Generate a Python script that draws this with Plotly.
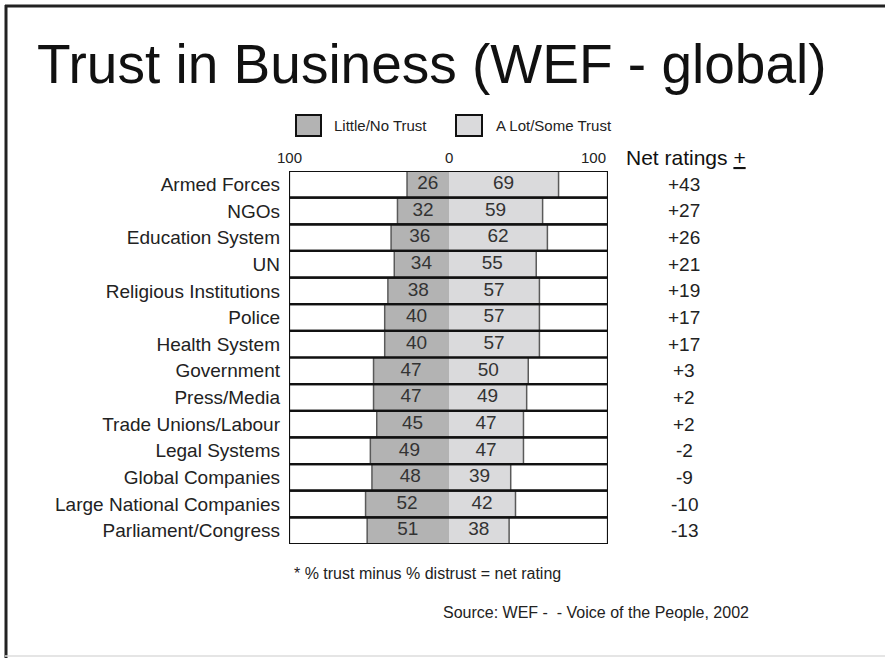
import plotly.graph_objects as go

categories = ["Armed Forces", "NGOs", "Education System", "UN", "Religious Institutions",
              "Police", "Health System", "Government", "Press/Media", "Trade Unions/Labour",
              "Legal Systems", "Global Companies", "Large National Companies", "Parliament/Congress"]
distrust = [26, 32, 36, 34, 38, 40, 40, 47, 47, 45, 49, 48, 52, 51]
trust = [69, 59, 62, 55, 57, 57, 57, 50, 49, 47, 47, 39, 42, 38]
net_ratings = ["+43", "+27", "+26", "+21", "+19", "+17", "+17", "+3", "+2", "+2", "-2", "-9", "-10", "-13"]
axis_ticks = ["100", "0", "100"]

W, H = 885, 658
L, R, T, B = 289, 608, 171, 544  # plot area in pixels


def px(p):
    return (p - L) / (R - L)


def py(p):
    return (B - p) / (B - T)


FONT = "Liberation Sans, Arial, sans-serif"
DARK = "#b3b3b3"
LIGHT = "#dadadc"
TXT = "#222222"

n = len(categories)
ys = list(range(n))

fig = go.Figure()
fig.add_trace(go.Bar(y=ys, x=distrust, base=[-d for d in distrust], orientation="h",
                     marker=dict(color=DARK, line=dict(width=0)), width=1.0,
                     name="Little/No Trust", showlegend=False, hoverinfo="skip"))
fig.add_trace(go.Bar(y=ys, x=trust, base=[0] * n, orientation="h",
                     marker=dict(color=LIGHT, line=dict(width=0)), width=1.0,
                     name="A Lot/Some Trust", showlegend=False, hoverinfo="skip"))

# bar end edges
ex, ey = [], []
for i in range(n):
    ex += [-distrust[i], -distrust[i], None, trust[i], trust[i], None]
    ey += [i - 0.5, i + 0.5, None, i - 0.5, i + 0.5, None]
fig.add_trace(go.Scatter(x=ex, y=ey, mode="lines", line=dict(color="#5a5a5a", width=1.5),
                         showlegend=False, hoverinfo="skip"))

# value labels
fig.add_trace(go.Scatter(x=[-d / 2 for d in distrust], y=ys, mode="text",
                         text=[str(d) for d in distrust],
                         textfont=dict(family=FONT, size=19, color="#333333"),
                         showlegend=False, hoverinfo="skip"))
fig.add_trace(go.Scatter(x=[t / 2 for t in trust], y=ys, mode="text",
                         text=[str(t) for t in trust],
                         textfont=dict(family=FONT, size=19, color="#333333"),
                         showlegend=False, hoverinfo="skip"))

shapes = []
for i in range(n):
    shapes.append(dict(type="rect", xref="x", yref="y", x0=-100, x1=100, y0=i - 0.5, y1=i + 0.5,
                       line=dict(color="#111111", width=2.2), fillcolor="rgba(0,0,0,0)", layer="above"))
# frame
shapes.append(dict(type="line", xref="paper", yref="paper", x0=px(6), x1=px(6), y0=py(5), y1=py(658),
                   line=dict(color="#222222", width=3)))
shapes.append(dict(type="line", xref="paper", yref="paper", x0=px(5), x1=px(885), y0=py(6), y1=py(6),
                   line=dict(color="#222222", width=3)))
shapes.append(dict(type="line", xref="paper", yref="paper", x0=px(5), x1=px(885), y0=py(656), y1=py(656),
                   line=dict(color="#dddddd", width=1.5)))
# legend boxes
shapes.append(dict(type="rect", xref="paper", yref="paper", x0=px(296), x1=px(321), y0=py(136), y1=py(115),
                   fillcolor=DARK, line=dict(color="#111111", width=2)))
shapes.append(dict(type="rect", xref="paper", yref="paper", x0=px(456), x1=px(482), y0=py(136), y1=py(115),
                   fillcolor=LIGHT, line=dict(color="#111111", width=2)))

ann = []
ann.append(dict(text="Trust in Business (WEF - global)", xref="paper", yref="paper", x=px(432), y=py(64),
                xanchor="center", yanchor="middle", showarrow=False,
                font=dict(family=FONT, size=55, color="#111111")))
ann.append(dict(text="Little/No Trust", xref="paper", yref="paper", x=px(332), y=py(126),
                xanchor="left", yanchor="middle", showarrow=False, font=dict(family=FONT, size=15, color=TXT)))
ann.append(dict(text="A Lot/Some Trust", xref="paper", yref="paper", x=px(494), y=py(126),
                xanchor="left", yanchor="middle", showarrow=False, font=dict(family=FONT, size=15, color=TXT)))
for xv, lab, anc in zip([-100, 0, 100], axis_ticks, ["center", "center", "right"]):
    ann.append(dict(text=lab, xref="x", yref="paper", x=xv, y=py(157),
                    xanchor=anc, yanchor="middle", showarrow=False, font=dict(family=FONT, size=15, color=TXT)))
ann.append(dict(text="Net ratings <u>+</u>", xref="paper", yref="paper", x=px(624), y=py(157),
                xanchor="left", yanchor="middle", showarrow=False, font=dict(family=FONT, size=21, color="#111111")))
for i, nr in enumerate(net_ratings):
    ann.append(dict(text=nr, xref="paper", yref="y", x=px(684), y=i, xanchor="center", yanchor="middle",
                    showarrow=False, font=dict(family=FONT, size=19, color=TXT)))
ann.append(dict(text="* % trust minus % distrust = net rating", xref="paper", yref="paper", x=px(292), y=py(573),
                xanchor="left", yanchor="middle", showarrow=False, font=dict(family=FONT, size=16, color=TXT)))
ann.append(dict(text="Source: WEF -\u00a0\u00a0- Voice of the People, 2002", xref="paper", yref="paper",
                x=px(441), y=py(612), xanchor="left", yanchor="middle", showarrow=False,
                font=dict(family=FONT, size=16, color=TXT)))

fig.update_layout(
    width=W, height=H,
    margin=dict(l=L, r=W - R, t=T, b=H - B, pad=0),
    paper_bgcolor="white", plot_bgcolor="white",
    barmode="overlay", bargap=0,
    shapes=shapes, annotations=ann, showlegend=False,
    xaxis=dict(range=[-100, 100], visible=False, fixedrange=True),
    yaxis=dict(range=[n - 0.5, -0.5], tickvals=ys, ticktext=categories, showgrid=False, zeroline=False,
               showline=False, ticks="", ticklabelstandoff=8,
               tickfont=dict(family=FONT, size=19, color=TXT), fixedrange=True),
)

fig.write_html("out.html", config={"displayModeBar": False})
